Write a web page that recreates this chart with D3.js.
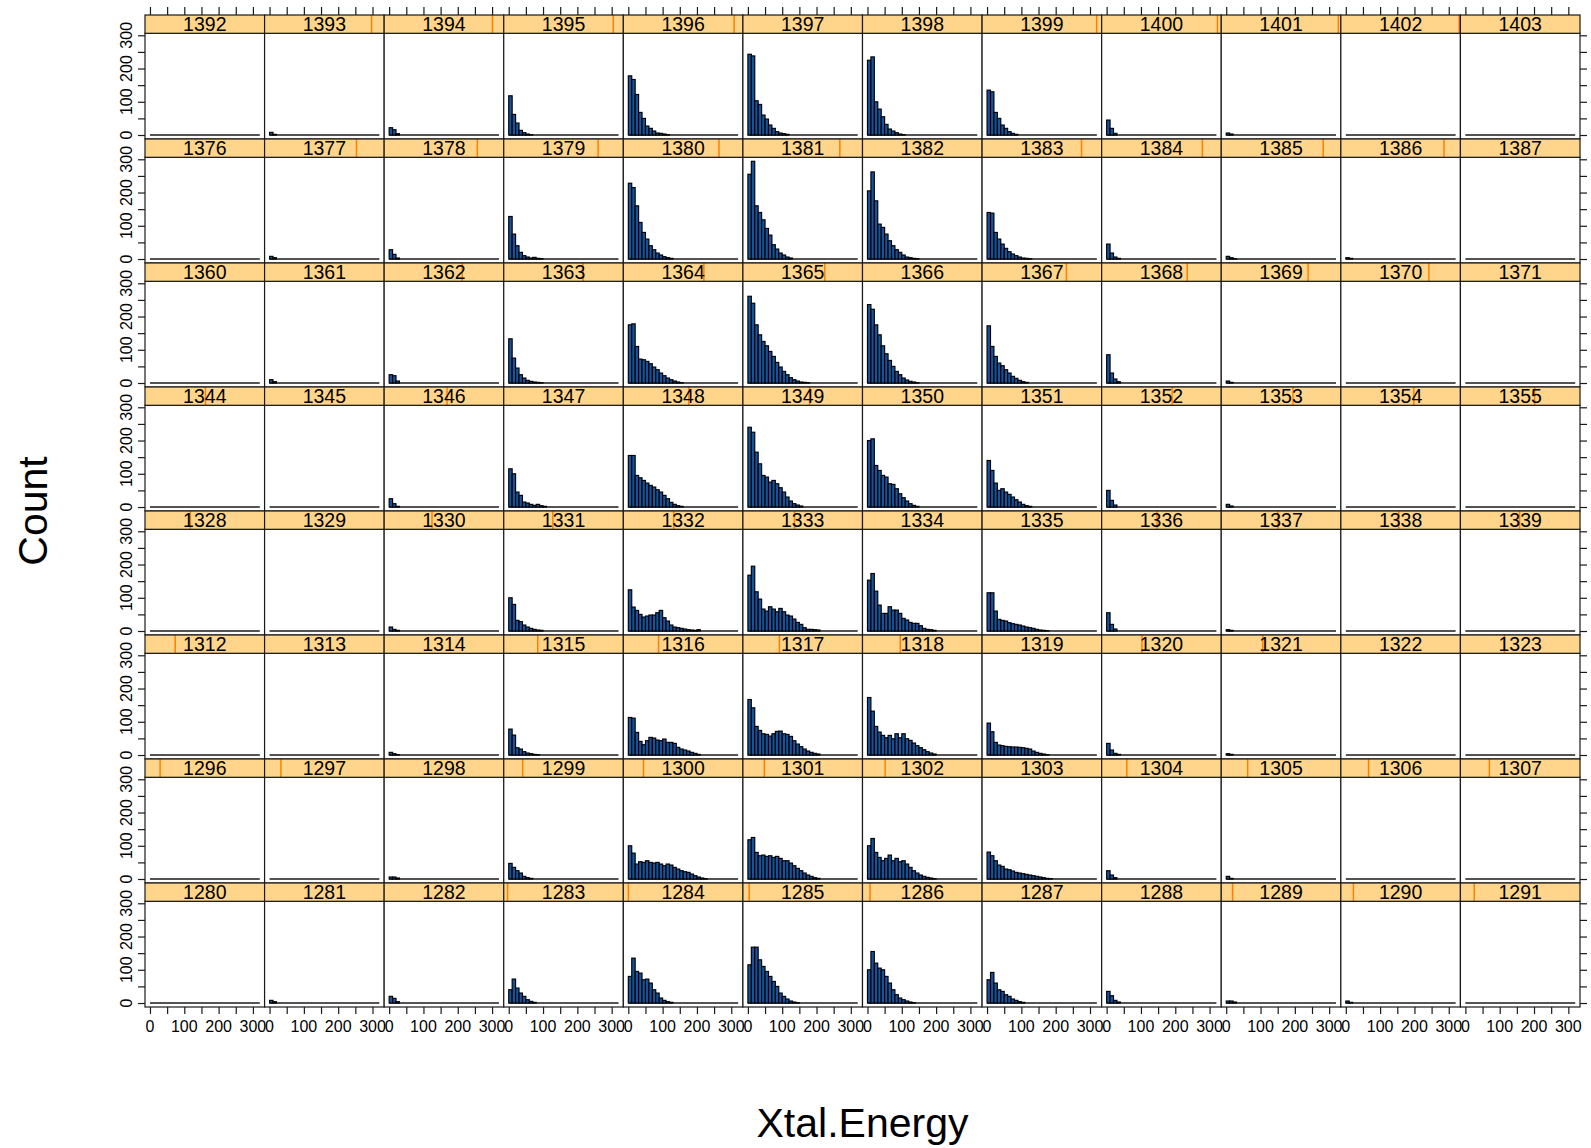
<!DOCTYPE html>
<html><head><meta charset="utf-8">
<script src="https://cdn.jsdelivr.net/npm/d3@7/dist/d3.min.js"></script>
<style>
body{margin:0;background:#ffffff;}
text{font-family:"Liberation Sans", Arial, sans-serif;fill:#000;}
</style>
</head><body>
<svg id="chart" width="1591" height="1148"></svg>
<script>
// ---------------- data ----------------
const rowStartIds = [1392, 1376, 1360, 1344, 1328, 1312, 1296, 1280]; // top row -> bottom row
const nCols = 12;
const nLevels = 96;
const breaks = d3.range(0, 321, 10);            // histogram breaks 0..320
const xTicks = [0, 50, 100, 150, 200, 250, 300];
const xTickLabels = [0, 100, 200, 300];
const yTicks = [0, 50, 100, 150, 200, 250, 300];
const yTickLabels = [0, 100, 200, 300];
const xLabel = "Xtal.Energy";
const yLabel = "Count";
// strips whose level marker does not show in the original picture
const levelsWithoutMark = [1280, 1281, 1282, 1287, 1288, 1298, 1303, 1313, 1314, 1319, 1322,
  1329, 1334, 1335, 1345, 1347, 1350, 1351, 1360, 1361, 1366, 1371, 1376, 1382, 1387,
  1392, 1397, 1398, 1403];

// counts per bin (bin width 10), one list per panel, columns left -> right
const counts1392 = [
  [], [8, 2], [22, 16, 4], [118, 62, 36, 14, 7, 3, 1],
  [178, 167, 122, 68, 50, 27, 20, 12, 6, 5, 3, 1],
  [243, 238, 103, 92, 60, 48, 30, 20, 10, 6, 4, 2],
  [225, 235, 100, 78, 55, 32, 18, 12, 7, 3, 1],
  [135, 130, 68, 50, 30, 20, 10, 5, 2],
  [45, 20, 5], [6, 3], [], []
];
const counts1376 = [
  [], [8, 4], [28, 14, 3], [128, 75, 40, 20, 10, 6, 3, 5, 2, 1],
  [228, 215, 160, 110, 80, 60, 40, 28, 18, 12, 7, 4, 2],
  [255, 294, 160, 140, 118, 92, 72, 43, 30, 18, 12, 6, 3],
  [205, 262, 175, 105, 95, 75, 55, 40, 28, 20, 12, 6, 4, 2, 1],
  [140, 138, 80, 60, 45, 32, 22, 15, 10, 6, 3, 2, 1],
  [45, 18, 6, 2], [8, 4, 1], [4, 2], []
];
const counts1360 = [
  [], [10, 4], [25, 22, 6], [133, 75, 45, 25, 15, 8, 5, 3, 2, 1],
  [175, 178, 110, 72, 70, 65, 58, 48, 40, 30, 22, 15, 10, 6, 3, 1],
  [261, 240, 175, 145, 125, 112, 95, 80, 62, 48, 35, 25, 16, 10, 6, 3, 2, 1],
  [236, 222, 175, 145, 112, 88, 68, 50, 35, 25, 15, 9, 5, 3, 1],
  [172, 110, 80, 60, 52, 40, 30, 20, 14, 8, 4, 2],
  [85, 30, 12, 4], [6, 2], [], []
];
const counts1344 = [
  [], [], [25, 10, 2], [115, 100, 45, 35, 15, 12, 8, 5, 8, 4, 2],
  [155, 155, 95, 88, 80, 72, 65, 60, 52, 45, 35, 25, 14, 8, 4, 2],
  [240, 225, 165, 130, 95, 90, 75, 80, 70, 58, 45, 30, 18, 10, 6, 3],
  [200, 205, 125, 110, 95, 90, 70, 68, 55, 40, 28, 18, 10, 5, 2],
  [140, 110, 72, 50, 55, 45, 38, 30, 22, 15, 8, 4, 2],
  [50, 20, 6], [8, 3], [], []
];
const counts1328 = [
  [], [], [12, 5, 2], [100, 80, 32, 28, 18, 12, 8, 5, 3, 2],
  [124, 72, 62, 50, 42, 45, 48, 48, 55, 62, 40, 30, 18, 12, 10, 8, 6, 4, 3, 2, 4],
  [168, 195, 118, 96, 66, 60, 73, 66, 58, 68, 58, 48, 45, 36, 26, 20, 10, 5, 5, 4, 3],
  [153, 173, 120, 78, 53, 53, 73, 63, 63, 53, 38, 33, 26, 23, 23, 16, 8, 5, 4, 2],
  [115, 115, 60, 35, 32, 30, 25, 22, 20, 18, 15, 12, 10, 8, 5, 3, 2, 1],
  [55, 20, 6], [4, 2], [], []
];
const counts1312 = [
  [], [], [8, 4, 1], [78, 60, 22, 18, 10, 6, 4, 2, 1],
  [113, 111, 68, 41, 31, 43, 53, 51, 45, 43, 48, 38, 38, 35, 23, 18, 15, 12, 8, 5, 2],
  [167, 142, 86, 74, 64, 62, 57, 64, 71, 72, 64, 62, 56, 43, 33, 25, 18, 12, 8, 5, 3],
  [173, 132, 86, 69, 59, 52, 59, 49, 64, 52, 64, 49, 44, 36, 28, 22, 16, 10, 6, 3],
  [96, 70, 38, 30, 28, 26, 25, 24, 24, 23, 22, 20, 18, 12, 8, 5, 3, 1],
  [35, 15, 5, 2], [4, 2], [], []
];
const counts1296 = [
  [], [], [6, 6, 3], [47, 35, 25, 18, 8, 4, 2],
  [100, 78, 45, 52, 50, 55, 50, 48, 50, 45, 40, 45, 42, 35, 30, 25, 22, 20, 15, 10, 6, 3, 1],
  [118, 125, 80, 70, 72, 68, 70, 65, 68, 62, 55, 55, 48, 40, 32, 25, 18, 12, 8, 4, 2],
  [100, 122, 80, 65, 55, 62, 72, 55, 62, 52, 55, 45, 35, 25, 18, 12, 8, 5, 3, 1],
  [81, 70, 55, 42, 38, 30, 28, 24, 20, 18, 16, 14, 12, 10, 8, 6, 4, 2, 1],
  [25, 12, 4], [8, 2], [], []
];
const counts1280 = [
  [], [8, 4], [20, 14, 4], [40, 72, 45, 30, 20, 10, 5, 2],
  [80, 135, 95, 90, 70, 72, 60, 40, 30, 15, 8, 4, 2],
  [115, 168, 168, 130, 110, 95, 80, 65, 50, 30, 20, 12, 6, 3, 1],
  [100, 155, 120, 105, 100, 80, 60, 40, 25, 15, 10, 6, 3, 1],
  [70, 92, 60, 40, 35, 25, 20, 12, 8, 4, 2],
  [35, 22, 8, 3], [6, 6, 3], [6, 2], []
];
const rowCounts = [counts1392, counts1376, counts1360, counts1344, counts1328, counts1312, counts1296, counts1280];

// ---------------- layout ----------------
const W = 1591, H = 1148;
const L = 145, R = 1580, T = 15, B = 1007;
const nRows = rowStartIds.length;
const pw = (R - L) / nCols;
const rh = (B - T) / nRows;
const stripH = 18.3;
const xDomain = [-14.5, 334];
const yDomain = [-12, 306];
const barFill = "#17529c";
const stripFill = "#ffd58c";
const levelColor = "#ff7f00";
const lineColor = "#1a1a1a";

const svg = d3.select("#chart");
svg.append("rect").attr("width", W).attr("height", H).attr("fill", "#ffffff");

const g = svg.append("g");

rowCounts.forEach((row, r) => {
  const rowTop = T + r * rh;
  const panelTop = rowTop + stripH;
  const panelBot = rowTop + rh;
  const y = d3.scaleLinear().domain(yDomain).range([panelBot, panelTop]);
  const rowFromBottom = nRows - 1 - r;

  row.forEach((counts, c) => {
    const px = L + c * pw;
    const x = d3.scaleLinear().domain(xDomain).range([px, px + pw]);
    const id = rowStartIds[r] + c;
    const pg = g.append("g");

    pg.append("rect").attr("x", px).attr("y", panelTop).attr("width", pw).attr("height", panelBot - panelTop)
      .attr("fill", "#ffffff");

    // baseline formed by the empty bins
    pg.append("line")
      .attr("x1", x(breaks[0])).attr("x2", x(breaks[breaks.length - 1]))
      .attr("y1", y(0)).attr("y2", y(0))
      .attr("stroke", lineColor).attr("stroke-width", 1.3);

    // histogram bars
    const bins = counts.map((v, i) => ({x0: breaks[i], x1: breaks[i + 1], v})).filter(d => d.v > 0);
    pg.selectAll("rect.bar").data(bins).enter().append("rect")
      .attr("class", "bar")
      .attr("x", d => x(d.x0))
      .attr("width", d => x(d.x1) - x(d.x0))
      .attr("y", d => y(d.v))
      .attr("height", d => y(0) - y(d.v))
      .attr("fill", barFill)
      .attr("stroke", "#000").attr("stroke-width", 1.15);

    pg.append("rect").attr("x", px).attr("y", panelTop).attr("width", pw).attr("height", panelBot - panelTop)
      .attr("fill", "none").attr("stroke", lineColor).attr("stroke-width", 1.2);

    // strip
    const sg = g.append("g");
    sg.append("rect").attr("x", px).attr("y", rowTop).attr("width", pw).attr("height", stripH)
      .attr("fill", stripFill);
    if (!levelsWithoutMark.includes(id)) {
      const idx = rowFromBottom * nCols + c;
      const sx = px + (idx / (nLevels - 1)) * pw;
      sg.append("line").attr("x1", sx).attr("x2", sx).attr("y1", rowTop).attr("y2", rowTop + stripH)
        .attr("stroke", levelColor).attr("stroke-width", 1.5);
    }
    sg.append("text").attr("x", px + pw / 2).attr("y", rowTop + 16)
      .attr("text-anchor", "middle").attr("font-size", 19.5).text(id);
    sg.append("rect").attr("x", px).attr("y", rowTop).attr("width", pw).attr("height", stripH)
      .attr("fill", "none").attr("stroke", lineColor).attr("stroke-width", 1.2);
  });

  // left axis
  const axL = g.append("g").attr("transform", `translate(${L},0)`)
    .call(d3.axisLeft(y).tickValues(yTicks).tickSize(7).tickFormat(() => ""));
  axL.select(".domain").remove();
  axL.selectAll("line").attr("stroke", lineColor).attr("stroke-width", 1.2);
  yTickLabels.forEach(v => {
    g.append("text").attr("transform", `translate(${L - 13},${y(v)}) rotate(-90)`)
      .attr("text-anchor", "middle").attr("font-size", 16).text(v);
  });
  // right axis ticks
  const axR = g.append("g").attr("transform", `translate(${R},0)`)
    .call(d3.axisRight(y).tickValues(yTicks).tickSize(7).tickFormat(() => ""));
  axR.select(".domain").remove();
  axR.selectAll("line").attr("stroke", lineColor).attr("stroke-width", 1.2);
});

// top and bottom axes
for (let c = 0; c < nCols; c++) {
  const px = L + c * pw;
  const x = d3.scaleLinear().domain(xDomain).range([px, px + pw]);
  const axT = g.append("g").attr("transform", `translate(0,${T})`)
    .call(d3.axisTop(x).tickValues(xTicks).tickSize(8).tickFormat(() => ""));
  axT.select(".domain").remove();
  axT.selectAll("line").attr("stroke", lineColor).attr("stroke-width", 1.2);
  const axB = g.append("g").attr("transform", `translate(0,${B})`)
    .call(d3.axisBottom(x).tickValues(xTicks).tickSize(7).tickFormat(() => ""));
  axB.select(".domain").remove();
  axB.selectAll("line").attr("stroke", lineColor).attr("stroke-width", 1.2);
  xTickLabels.forEach(v => {
    g.append("text").attr("x", x(v)).attr("y", B + 25)
      .attr("text-anchor", "middle").attr("font-size", 16).text(v);
  });
}

// axis titles
svg.append("text").attr("x", (L + R) / 2).attr("y", 1137)
  .attr("text-anchor", "middle").attr("font-size", 41).text(xLabel);
svg.append("text").attr("transform", `translate(47,${(T + B) / 2}) rotate(-90)`)
  .attr("text-anchor", "middle").attr("font-size", 41).text(yLabel);
</script>
</body></html>
